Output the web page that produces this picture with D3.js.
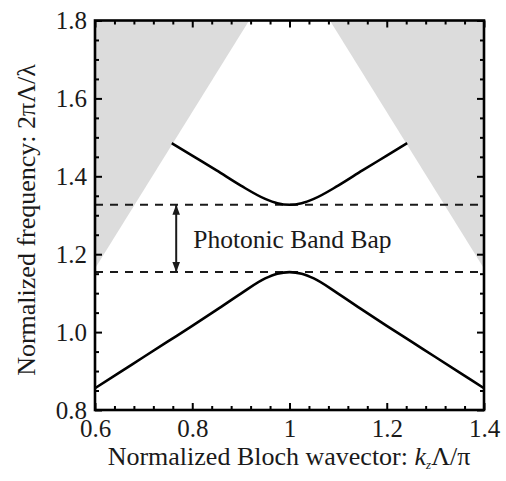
<!DOCTYPE html>
<html>
<head>
<meta charset="utf-8">
<script src="https://cdn.jsdelivr.net/npm/d3@7"></script>
<style>
  body { margin: 0; background: #fff; }
  svg { display: block; }
  text { font-family: "Liberation Serif", "Times New Roman", serif; fill: #1a1a1a; }
</style>
</head>
<body>
<div id="viz"></div>
<script>
// band data (k in units of pi/Lambda)
const lowerK = [0.60, 0.65, 0.70, 0.75, 0.80, 0.85, 0.90, 0.95, 0.975, 1.00, 1.025, 1.05, 1.10, 1.15, 1.20, 1.25, 1.30, 1.35, 1.40],
    lowerW = [0.856, 0.896, 0.936, 0.976, 1.016, 1.057, 1.099, 1.138, 1.150, 1.154, 1.150, 1.138, 1.099, 1.057, 1.016, 0.976, 0.936, 0.896, 0.856],
    upperK = [0.758, 0.80, 0.85, 0.90, 0.95, 0.975, 1.00, 1.025, 1.05, 1.10, 1.15, 1.20, 1.242],
    upperW = [1.485, 1.453, 1.415, 1.376, 1.342, 1.331, 1.327, 1.331, 1.342, 1.376, 1.415, 1.453, 1.485];

// light cone edges (grey = radiation modes)
const leftConeK = [0.6, 0.6, 0.917],
    leftConeW = [1.8, 1.163, 1.8],
    rightConeK = [1.083, 1.4, 1.4],
    rightConeW = [1.8, 1.163, 1.8];

const gapEdges = [1.154, 1.327],
    arrowK = 0.767,
    gapLabel = 'Photonic Band Bap';

const xTicks = [0.6, 0.8, 1.0, 1.2, 1.4],
    xTickLabels = ['0.6', '0.8', '1', '1.2', '1.4'],
    yTicks = [0.8, 1.0, 1.2, 1.4, 1.6, 1.8],
    yTickLabels = ['0.8', '1.0', '1.2', '1.4', '1.6', '1.8'];

const svgW = 506,
    svgH = 481,
    margin = {top: 20.5, right: 22, bottom: 71, left: 95},
    width = svgW - margin.left - margin.right,
    height = svgH - margin.top - margin.bottom;

const xScale = d3.scaleLinear().domain([0.6, 1.4]).range([0, width]);
const yScale = d3.scaleLinear().domain([0.8, 1.8]).range([height, 0]);

const svg = d3.select('#viz')
    .append('svg')
    .attr('width', svgW)
    .attr('height', svgH);

svg.append('defs').append('clipPath')
    .attr('id', 'plotclip')
    .append('rect')
    .attr('width', width)
    .attr('height', height);

const marker = svg.select('defs').append('marker')
    .attr('id', 'head')
    .attr('viewBox', '0 0 10 10')
    .attr('refX', 10)
    .attr('refY', 5)
    .attr('markerWidth', 5)
    .attr('markerHeight', 5)
    .attr('markerUnits', 'strokeWidth')
    .attr('orient', 'auto-start-reverse');
marker.append('path').attr('d', 'M0,1.2 L10,5 L0,8.8 Z').attr('fill', '#1a1a1a');

const g = svg.append('g')
    .attr('transform', 'translate(' + margin.left + ',' + margin.top + ')');

const plot = g.append('g').attr('clip-path', 'url(#plotclip)');

// grey cones
const cones = [[leftConeK, leftConeW], [rightConeK, rightConeW]];
plot.selectAll('.cone')
    .data(cones)
    .enter().append('path')
    .attr('class', 'cone')
    .attr('fill', '#dcdcdc')
    .attr('d', function(c) {
        return d3.line()(c[0].map(function(k, i) { return [xScale(k), yScale(c[1][i])]; })) + 'Z';
    });

// gap edges
plot.selectAll('.gap')
    .data(gapEdges)
    .enter().append('line')
    .attr('class', 'gap')
    .attr('x1', 0)
    .attr('x2', width)
    .attr('y1', function(d) { return yScale(d); })
    .attr('y2', function(d) { return yScale(d); })
    .attr('stroke', '#1a1a1a')
    .attr('stroke-width', 2)
    .attr('stroke-dasharray', '8,7');

const bandLine = d3.line()
    .x(function(d) { return xScale(d[0]); })
    .y(function(d) { return yScale(d[1]); })
    .curve(d3.curveMonotoneX);

const bands = [
    lowerK.map(function(k, i) { return [k, lowerW[i]]; }),
    upperK.map(function(k, i) { return [k, upperW[i]]; })
];

plot.selectAll('.band')
    .data(bands)
    .enter().append('path')
    .attr('class', 'band')
    .attr('fill', 'none')
    .attr('stroke', '#000')
    .attr('stroke-width', 2.6)
    .attr('d', bandLine);

// double arrow across the gap
g.append('line')
    .attr('x1', xScale(arrowK))
    .attr('x2', xScale(arrowK))
    .attr('y1', yScale(gapEdges[0]))
    .attr('y2', yScale(gapEdges[1]))
    .attr('stroke', '#1a1a1a')
    .attr('stroke-width', 2)
    .attr('marker-start', 'url(#head)')
    .attr('marker-end', 'url(#head)');

g.append('text')
    .attr('x', xScale(arrowK) + 17)
    .attr('y', yScale(gapEdges[0]) - 24)
    .style('font-size', '25.5px')
    .text(gapLabel);

// axes: major + minor ticks on all four sides, pointing in
function axisSet(axisFn, scale, majors, labels, minorStep, transform, showLabels, pad) {
    const minors = d3.range(scale.domain()[0], scale.domain()[1] + 1e-9, minorStep)
        .filter(function(v) { return !majors.some(function(m) { return Math.abs(m - v) < 1e-6; }); });

    const minorAxis = axisFn(scale).tickValues(minors).tickSize(-4).tickFormat('');
    const majorAxis = axisFn(scale).tickValues(majors).tickSize(-7).tickPadding(pad)
        .tickFormat(function(d, i) { return showLabels ? labels[i] : ''; });

    [minorAxis, majorAxis].forEach(function(a) {
        const ax = g.append('g')
            .attr('transform', transform)
            .call(a);
        ax.select('.domain').remove();
        ax.selectAll('.tick line').attr('stroke', '#000').attr('stroke-width', 2);
        ax.selectAll('.tick text')
            .style('font-family', '"Liberation Serif", "Times New Roman", serif')
            .style('font-size', '25px')
            .attr('fill', '#1a1a1a');
    });
}

axisSet(d3.axisBottom, xScale, xTicks, xTickLabels, 0.04, 'translate(0,' + height + ')', true, 9);
axisSet(d3.axisTop, xScale, xTicks, xTickLabels, 0.04, 'translate(0,0)', false, 9);
axisSet(d3.axisLeft, yScale, yTicks, yTickLabels, 0.05, 'translate(0,0)', true, 8);
axisSet(d3.axisRight, yScale, yTicks, yTickLabels, 0.05, 'translate(' + width + ',0)', false, 8);

// frame
g.append('rect')
    .attr('width', width)
    .attr('height', height)
    .attr('fill', 'none')
    .attr('stroke', '#000')
    .attr('stroke-width', 2.6);

// axis titles
const xTitle = svg.append('text')
    .attr('x', 289)
    .attr('y', 465)
    .attr('text-anchor', 'middle')
    .style('font-size', '26px');
xTitle.append('tspan').text('Normalized Bloch wavector: ');
xTitle.append('tspan').style('font-style', 'italic').text('k');
xTitle.append('tspan').style('font-style', 'italic').style('font-size', '13px').attr('dy', 4).text('z');
xTitle.append('tspan').attr('dy', -4).text('\u039B/\u03C0');

svg.append('text')
    .attr('transform', 'translate(35,220) rotate(-90)')
    .attr('text-anchor', 'middle')
    .style('font-size', '26px')
    .text('Normalized frequency: 2\u03C0\u039B/\u03BB');
</script>
</body>
</html>
